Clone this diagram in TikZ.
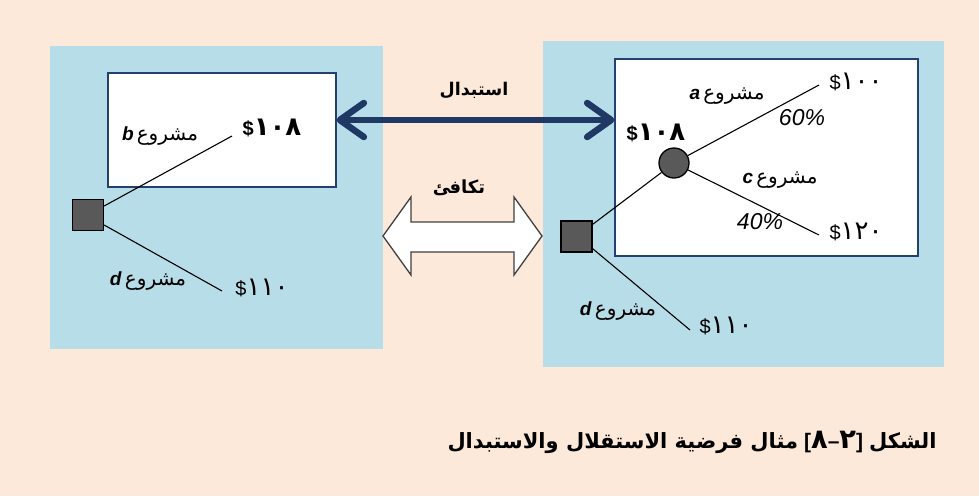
\documentclass[tikz,border=0pt]{standalone}
\usepackage{fontspec}
\setmainfont{Liberation Sans}
\newfontfamily\arabicfont[Script=Arabic]{DejaVu Sans}
\newfontfamily\digitfont[Script=Arabic,Scale=1.3]{DejaVu Sans}
\TeXXeTstate=1
\usetikzlibrary{arrows.meta}
\definecolor{peach}{RGB}{253,233,217}
\definecolor{panelblue}{RGB}{183,221,232}
\definecolor{navy}{RGB}{31,56,100}
\definecolor{boxborder}{RGB}{36,64,110}
\definecolor{nodegray}{RGB}{89,89,89}
\definecolor{hollowgray}{RGB}{64,64,64}
\tikzset{
  panel/.style={fill=panelblue, draw=none, inner sep=0pt, outer sep=0pt},
  whitebox/.style={fill=white, draw=boxborder, line width=1.2pt, inner sep=0pt},
  decsq/.style={fill=nodegray, draw=black, line width=1.3pt, minimum size=31pt, inner sep=0pt},
  chance/.style={circle, fill=nodegray, draw=black, line width=1.3pt, minimum size=30pt, inner sep=0pt},
  branch/.style={draw=black, line width=1.1pt},
  val/.style={inner sep=0pt, font=\fontsize{20}{24}\selectfont},
  valb/.style={inner sep=0pt, font=\fontsize{20}{24}\selectfont\bfseries},
  lab/.style={inner sep=0pt, font=\fontsize{19}{23}\selectfont},
  pct/.style={inner sep=0pt, font=\fontsize{23}{27}\selectfont\itshape},
  boldlab/.style={inner sep=0pt, font=\fontsize{17.5}{21}\selectfont\bfseries},
  captionstyle/.style={inner sep=0pt, font=\fontsize{21}{25}\selectfont\bfseries},
  navyarrow/.style={draw=navy, line width=6.5pt,
     {Straight Barb[length=24pt,width=34pt,line cap=round,line join=round]}-{Straight Barb[length=24pt,width=34pt,line cap=round,line join=round]}}
}
\newcommand{\proj}[1]{\hbox{\textbf{\textit{#1}}}\,\hbox{\arabicfont\fontsize{20}{24}\selectfont\beginR مشروع\endR}}
\newcommand{\dval}[1]{\hbox{\$}\hbox{\digitfont #1}}
\begin{document}
\begin{tikzpicture}[x=1pt,y=-1pt]
\useasboundingbox (0,0) rectangle (979,496);
\fill[peach] (0,0) rectangle (979,496);
% panels
\node[panel, minimum width=333pt, minimum height=303pt] (lpanel) at (216.5,197.5) {};
\node[panel, minimum width=401pt, minimum height=326pt] (rpanel) at (743.5,204) {};
% white boxes
\node[whitebox, minimum width=228pt, minimum height=114pt] (lbox) at (222,130) {};
\node[whitebox, minimum width=303pt, minimum height=197pt] (rbox) at (766.5,157.5) {};
% left tree
\node[decsq] (lsq) at (88,215) {};
\coordinate (lb) at (232,136);
\coordinate (ld) at (222,291);
\draw[branch] ([yshift=9pt]lsq.east) -- (lb);
\draw[branch] ([yshift=-10pt]lsq.east) -- (ld);
\node[valb] (lv108) at (272,128) {\dval{١٠٨}};
\node[lab] (lpb) at (160,136) {\proj{b}};
\node[val] (lv110) at (262,288) {\dval{١١٠}};
\node[lab] (lpd) at (148,281) {\proj{d}};
% right tree
\node[decsq] (rsq) at (576.5,236.5) {};
\node[chance] (circ) at (674,163) {};
\coordinate (ra) at (819,85);
\coordinate (rc) at (819,235);
\coordinate (rd) at (690,330);
\draw[branch] ([yshift=-4pt]rsq.north east) -- (circ);
\draw[branch] (circ) -- (ra);
\draw[branch] (circ) -- (rc);
\draw[branch] ([yshift=4pt]rsq.south east) -- (rd);
\node[valb] (rv108) at (656,133) {\dval{١٠٨}};
\node[val] (rv100) at (856,82) {\dval{١٠٠}};
\node[val] (rv120) at (856,232) {\dval{١٢٠}};
\node[val] (rv110) at (726,326) {\dval{١١٠}};
\node[lab] (rpa) at (727,96) {\proj{a}};
\node[pct] (p60) at (802,118) {60\%};
\node[lab] (rpc) at (780,180) {\proj{c}};
\node[pct] (p40) at (760,222) {40\%};
\node[lab] (rpd) at (618,311) {\proj{d}};
% substitution arrow
\draw[navyarrow] ([yshift=10pt]lbox.east) -- ([yshift=37.5pt]rbox.west);
\node[boldlab] (subst) at (474,90) {{\arabicfont\beginR استبدال\endR}};
% equivalence hollow arrow
\draw[hollowgray, fill=white, line width=1.3pt, line join=miter]
  (383,236) -- (411,197) -- (411,222) -- (514,222) -- (514,197) -- (542,236)
  -- (514,275) -- (514,252) -- (411,252) -- (411,275) -- cycle;
\node[boldlab, font=\fontsize{18}{21}\selectfont\bfseries] (equiv) at (459,188) {{\arabicfont\beginR تكافئ\endR}};
% caption
\node[captionstyle] (caption) at (692,442) {\hbox{\arabicfont\beginR مثال فرضية الاستقلال والاستبدال\endR}\hspace{6pt}\hbox{[}\hbox{\digitfont ٨}\hbox{–}\hbox{\digitfont ٢}\hbox{]}\hspace{6pt}\hbox{\arabicfont\beginR الشكل\endR}};
\end{tikzpicture}
\end{document}
